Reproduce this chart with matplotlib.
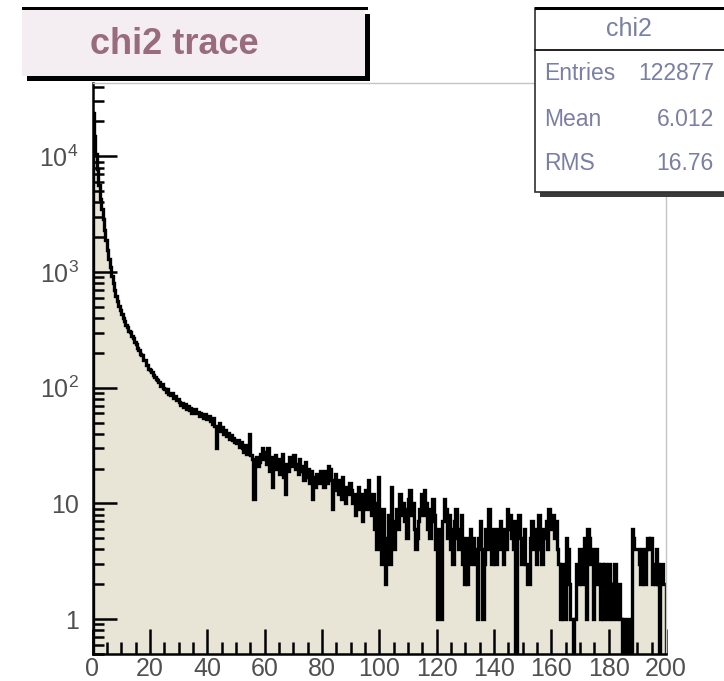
import numpy as np
import matplotlib.pyplot as plt
from matplotlib.patches import Rectangle
from matplotlib.ticker import FixedLocator, FixedFormatter, LogLocator, MultipleLocator

# chi2 histogram, 400 bins of width 0.5 between 0 and 200
counts_0_20 = [23500, 15000, 10500, 7800, 5600, 4300, 3500, 2900, 2300, 1900,
               1550, 1300, 1100, 920, 800, 700, 620, 560, 510, 465,
               430, 398, 377, 350, 335, 309, 301, 280, 268, 249,
               240, 219, 214, 197, 192, 175, 172, 158, 157, 146]
counts_20_40 = [141, 136, 130, 124, 120, 116, 112, 104, 108, 100,
                97, 92, 98, 88, 86, 90, 81, 84, 78, 80,
                76, 71, 74, 68, 72, 66, 69, 64, 67, 61,
                63, 66, 60, 62, 57, 61, 58, 55, 59, 54]
counts_40_60 = [54, 57, 52, 49, 55, 47, 30, 44, 50, 42,
                46, 40, 43, 38, 41, 36, 39, 35, 37, 34,
                33, 35, 31, 34, 30, 28, 32, 27, 29, 40,
                26, 24, 11, 22, 25, 21, 23, 27, 30, 24]
counts_60_80 = [28, 22, 30, 19, 25, 14, 23, 26, 20, 24,
                18, 21, 27, 17, 12, 22, 19, 25, 21, 23,
                26, 20, 22, 18, 24, 19, 21, 16, 23, 17,
                20, 15, 19, 11, 17, 14, 18, 16, 15, 19]
counts_80_100 = [17, 14, 19, 15, 21, 20, 16, 9, 13, 18,
                 15, 12, 16, 11, 17, 13, 10, 14, 12, 15,
                 13, 10, 12, 8, 11, 14, 9, 12, 7, 10,
                 13, 9, 16, 11, 8, 12, 6, 10, 4, 17]
counts_100_120 = [6, 3, 9, 5, 2, 4, 8, 3, 14, 5,
                  4, 7, 9, 6, 12, 8, 10, 7, 9, 5,
                  11, 13, 8, 10, 6, 4, 5, 7, 9, 12,
                  8, 13, 10, 6, 9, 5, 7, 11, 8, 4]
counts_120_140 = [1, 6, 4, 1, 7, 11, 9, 5, 8, 4,
                  6, 3, 7, 9, 5, 4, 6, 8, 3, 2,
                  5, 2, 4, 6, 3, 5, 4, 3, 1, 5,
                  7, 4, 1, 3, 6, 4, 9, 5, 3, 6]
counts_140_160 = [5, 3, 6, 4, 7, 5, 3, 6, 4, 9,
                  6, 8, 5, 4, 7, 0, 6, 8, 5, 3,
                  4, 6, 3, 2, 2, 5, 7, 4, 6, 3,
                  5, 8, 4, 3, 6, 5, 7, 4, 9, 6]
counts_160_180 = [6, 8, 5, 7, 4, 3, 1, 3, 1, 1,
                  5, 4, 2, 1, 1, 0, 1, 3, 2, 4,
                  4, 2, 3, 5, 1, 6, 5, 3, 4, 1,
                  2, 4, 3, 2, 1, 3, 1, 3, 2, 1]
counts_180_200 = [3, 2, 1, 2, 3, 1, 2, 2, 1, 0,
                  1, 0, 0, 1, 0, 0, 6, 5, 4, 4,
                  4, 3, 2, 4, 3, 2, 4, 5, 4, 5,
                  2, 3, 2, 4, 2, 0, 3, 3, 2, 2]

x_min, x_max, bin_width = 0, 200, 0.5
y_min, y_max = 0.5, 4.3e4

title_text = "chi2 trace"
stats_name = "chi2"
stats_labels = ["Entries", "Mean", "RMS"]
stats_values = ["122877", "6.012", "16.76"]

x_ticks = [0, 20, 40, 60, 80, 100, 120, 140, 160, 180, 200]
y_ticks = [1, 10, 100, 1000, 10000]
y_tick_labels = ["1", "10", "$10^{2}$", "$10^{3}$", "$10^{4}$"]

counts = np.array(counts_0_20 + counts_20_40 + counts_40_60 + counts_60_80
                  + counts_80_100 + counts_100_120 + counts_120_140
                  + counts_140_160 + counts_160_180 + counts_180_200, dtype=float)
edges = np.arange(x_min, x_max + bin_width / 2, bin_width)

plt.rcParams["font.family"] = ["Liberation Sans", "DejaVu Sans"]
plt.rcParams["mathtext.default"] = "regular"
plt.rcParams["hatch.color"] = "#d4cebd"
plt.rcParams["hatch.linewidth"] = 0.8

W, H = 724, 681
fig = plt.figure(figsize=(W / 100, H / 100), dpi=100)


def fx(px):
    return px / W


def fy(py):
    return 1 - py / H


ax = fig.add_axes([fx(92.5), fy(654), fx(666) - fx(92.5), fy(83) - fy(654)])

# empty bins drop to the bottom of the frame on the log scale
shown = np.clip(counts, y_min * 0.5, None)
ax.stairs(shown, edges, baseline=y_min * 0.5, fill=True,
          facecolor="#e8e4d6", edgecolor="none", hatch="....", zorder=1)
ax.stairs(shown, edges, color="black", lw=2.4, zorder=2)

ax.set_yscale("log")
ax.set_xlim(x_min, x_max)
ax.set_ylim(y_min, y_max)

for side in ["left", "bottom"]:
    ax.spines[side].set_color("black")
    ax.spines[side].set_linewidth(1.8)
for side in ["top", "right"]:
    ax.spines[side].set_color("#c4c4c4")
    ax.spines[side].set_linewidth(1.0)

ax.xaxis.set_major_locator(FixedLocator(x_ticks))
ax.xaxis.set_minor_locator(MultipleLocator(5))
ax.yaxis.set_major_locator(FixedLocator(y_ticks))
ax.yaxis.set_major_formatter(FixedFormatter(y_tick_labels))
ax.yaxis.set_minor_locator(LogLocator(base=10, subs=np.arange(2, 10), numticks=20))
ax.yaxis.set_minor_formatter(FixedFormatter([]))

ax.tick_params(axis="both", which="both", direction="in", colors="black",
               labelcolor="#505050", labelsize=18, width=1.8,
               top=False, right=False)
ax.tick_params(axis="x", which="major", length=18, pad=2)
ax.tick_params(axis="x", which="minor", length=9)
ax.tick_params(axis="y", which="major", length=17, pad=10)
ax.tick_params(axis="y", which="minor", length=8)

# title pave with shadow
fig.add_artist(Rectangle((fx(27), fy(81)), fx(370) - fx(27), fy(14) - fy(81),
                         transform=fig.transFigure, facecolor="black",
                         edgecolor="none", zorder=5))
fig.add_artist(Rectangle((fx(22), fy(76)), fx(365) - fx(22), fy(8) - fy(76),
                         transform=fig.transFigure, facecolor="#f4eef3",
                         edgecolor="none", zorder=6))
fig.add_artist(Rectangle((fx(22), fy(10)), fx(368) - fx(22), fy(7) - fy(10),
                         transform=fig.transFigure, facecolor="black",
                         edgecolor="none", zorder=7))
fig.text(fx(174), fy(44), title_text, ha="center", va="center",
         fontsize=26, color="#9a6c7b", fontweight="bold", zorder=8)

# statistics box
fig.add_artist(Rectangle((fx(540), fy(197)), fx(730) - fx(540), fy(190) - fy(197),
                         transform=fig.transFigure, facecolor="#3a3a3a",
                         edgecolor="none", zorder=5))
fig.add_artist(Rectangle((fx(535), fy(192)), fx(730) - fx(535), fy(8) - fy(192),
                         transform=fig.transFigure, facecolor="white",
                         edgecolor="#303030", linewidth=1.2, zorder=6))
fig.add_artist(Rectangle((fx(535), fy(10)), fx(730) - fx(535), fy(7) - fy(10),
                         transform=fig.transFigure, facecolor="black",
                         edgecolor="none", zorder=7))
fig.add_artist(plt.Line2D([fx(535), fx(724)], [fy(50), fy(50)],
                          transform=fig.transFigure, color="#202020",
                          lw=1.4, zorder=7))
stats_color = "#7a7fa5"
fig.text(fx(629), fy(29), stats_name, ha="center", va="center",
         fontsize=18, color=stats_color, zorder=8)
for label, value, py in zip(stats_labels, stats_values, [74, 120, 163]):
    fig.text(fx(544), fy(py), label, ha="left", va="center",
             fontsize=16.5, color=stats_color, zorder=8)
    fig.text(fx(714), fy(py), value, ha="right", va="center",
             fontsize=16.5, color=stats_color, zorder=8)

fig.savefig("out.png", dpi=100)
